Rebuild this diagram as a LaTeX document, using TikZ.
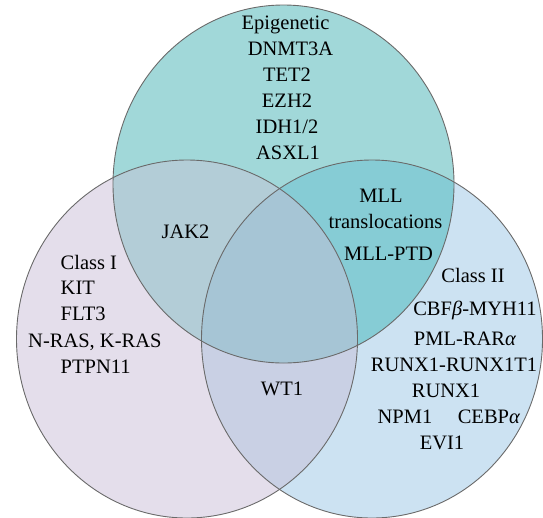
\documentclass[tikz,border=0pt]{standalone}
\usepackage{fontspec}
\setmainfont{Liberation Serif}
\definecolor{cTop}{HTML}{A1D8D9}
\definecolor{cLeft}{HTML}{E4DEEB}
\definecolor{cRight}{HTML}{CCE2F2}
\definecolor{cTL}{HTML}{B3CDD7}
\definecolor{cTR}{HTML}{86CCD5}
\definecolor{cLR}{HTML}{C9D0E4}
\definecolor{cAll}{HTML}{A6C5D5}
\definecolor{cEdge}{HTML}{6A6A6A}
\tikzset{
  topE/.style={insert path={(283.5,184) ellipse [x radius=170.5, y radius=179]}},
  leftE/.style={insert path={(187,339) ellipse [x radius=170.5, y radius=179]}},
  rightE/.style={insert path={(372,339) ellipse [x radius=170.5, y radius=179]}},
  lab/.style={font=\fontsize{20.5}{24}\selectfont, inner sep=0pt, anchor=base},
  labl/.style={lab, anchor=base west},
  edge/.style={draw=cEdge, line width=0.9pt}
}
\begin{document}
\begin{tikzpicture}[x=1pt,y=-1pt]
\useasboundingbox (0,0) rectangle (543,517);
% base fills
\fill[cLeft, leftE];
\fill[cRight, rightE];
\fill[cTop, topE];
% pairwise overlaps
\begin{scope}\clip[topE]; \fill[cTL, leftE]; \end{scope}
\begin{scope}\clip[topE]; \fill[cTR, rightE]; \end{scope}
\begin{scope}\clip[leftE]; \fill[cLR, rightE]; \end{scope}
\begin{scope}\clip[topE]; \clip[leftE]; \fill[cAll, rightE]; \end{scope}
% outlines
\draw[edge, topE];
\draw[edge, leftE];
\draw[edge, rightE];
% top set
\node[lab] (epi) at (285.5,29.7) {Epigenetic};
\node[lab] (dnmt) at (290.5,55.3) {DNMT3A};
\node[lab] (tet) at (287,81) {TET2};
\node[lab] (ezh) at (287,107) {EZH2};
\node[lab] (idh) at (287,133) {IDH1/2};
\node[lab] (asxl) at (288,159) {ASXL1};
% top-right overlap
\node[lab] (mll) at (381,202) {MLL};
\node[lab] (transl) at (385.5,228.5) {translocations};
\node[lab] (mllptd) at (388.5,260) {MLL-PTD};
% top-left overlap
\node[lab] (jak) at (185.5,238) {JAK2};
% left set
\node[labl] (c1) at (60.5,269) {Class I};
\node[labl] (kit) at (60.5,294) {KIT};
\node[labl] (flt) at (60.5,320) {FLT3};
\node[labl] (ras) at (28,347) {N-RAS, K-RAS};
\node[labl] (ptpn) at (60.5,373) {PTPN11};
% left-right overlap
\node[lab] (wt) at (282,395) {WT1};
% right set
\node[lab] (c2) at (473,282) {Class II};
\node[lab] (cbf) at (475,315) {CBF\textit{β}-MYH11};
\node[lab] (pml) at (465,345) {PML-RAR\textit{α}};
\node[lab] (runxt) at (454,371) {RUNX1-RUNX1T1};
\node[lab] (runx) at (446,397) {RUNX1};
\node[lab] (npm) at (405,423) {NPM1};
\node[lab] (cebp) at (489,423) {CEBP\textit{α}};
\node[lab] (evi) at (442,449) {EVI1};
\end{tikzpicture}
\end{document}
